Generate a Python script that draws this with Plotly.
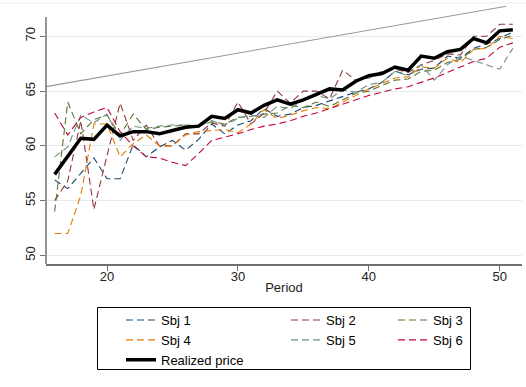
import plotly.graph_objects as go

# ---------------- data ----------------
periods = list(range(16, 52))

realized = [57.4, 59.0, 60.7, 60.6, 61.9, 60.9, 61.3, 61.3, 61.1, 61.4, 61.7, 61.8,
            62.7, 62.5, 63.3, 63.0, 63.7, 64.2, 63.8, 64.2, 64.7, 65.2, 65.1, 65.9,
            66.4, 66.6, 67.2, 66.9, 68.2, 68.0, 68.6, 68.8, 69.8, 69.4, 70.5, 70.6]

sbj1 = [56.9, 56.1, 57.5, 58.9, 57.0, 57.0, 60.1, 59.0, 59.9, 60.5, 59.6, 60.6,
        62.0, 61.1, 61.9, 62.3, 63.4, 62.7, 62.9, 63.5, 63.7, 64.1, 64.5, 64.9,
        65.2, 65.8, 66.8, 66.5, 67.0, 67.1, 68.2, 68.0, 68.9, 69.3, 69.8, 70.4]

sbj2 = [55.0, 56.8, 62.3, 54.2, 59.1, 63.9, 60.5, 61.9, 60.0, 60.0, 61.1, 61.1,
        62.1, 61.8, 64.0, 62.0, 63.0, 65.0, 63.9, 65.0, 65.0, 64.3, 66.9, 66.0,
        66.2, 66.8, 67.0, 66.7, 67.4, 67.8, 68.4, 68.3, 70.0, 70.0, 71.1, 71.1]

sbj3 = [54.0, 64.0, 61.1, 62.4, 62.8, 61.0, 62.9, 61.5, 61.7, 61.8, 61.9, 61.8,
        62.2, 62.0, 62.6, 62.7, 62.9, 63.0, 63.7, 63.5, 64.0, 63.6, 64.2, 64.8,
        65.0, 65.5, 66.0, 66.1, 66.8, 66.9, 67.6, 67.9, 68.8, 69.0, 69.7, 70.1]

sbj4 = [52.0, 52.0, 55.5, 62.0, 62.0, 59.0, 60.2, 61.0, 60.0, 60.0, 61.0, 61.3,
        61.4, 61.5, 61.2, 62.0, 63.3, 62.5, 62.8, 63.2, 63.5, 63.4, 64.0, 64.6,
        65.2, 65.7, 66.2, 66.3, 67.2, 67.1, 68.0, 67.6, 68.8, 68.9, 70.0, 69.8]

sbj5 = [59.0, 59.9, 62.8, 62.1, 62.9, 60.5, 61.8, 61.6, 61.8, 61.9, 61.9, 61.8,
        62.3, 61.9, 62.5, 62.8, 62.6, 63.6, 63.4, 64.2, 64.6, 64.3, 65.1, 64.9,
        65.6, 65.8, 66.8, 66.4, 67.4, 66.0, 67.4, 68.2, 67.8, 67.4, 67.0, 68.9]

sbj6 = [63.0, 61.0, 62.6, 63.1, 63.5, 61.3, 60.0, 59.0, 58.9, 58.5, 58.2, 59.3,
        60.5, 60.8, 61.1, 61.5, 61.8, 62.0, 62.3, 62.7, 63.0, 63.4, 63.8, 64.2,
        64.6, 64.9, 65.2, 65.4, 65.8, 66.2, 66.7, 67.2, 67.7, 68.0, 69.0, 69.4]

fund_period = [15.34, 50.5]
fund_value = [65.41, 72.74]

series_names = ["Sbj 1", "Sbj 2", "Sbj 3", "Sbj 4", "Sbj 5", "Sbj 6"]
series_vals = [sbj1, sbj2, sbj3, sbj4, sbj5, sbj6]
series_colors = ["#1a476f", "#90353b", "#55752f", "#e37e00", "#6e8e84", "#c10534"]
series_legend = ["legend", "legend2", "legend3", "legend", "legend2", "legend3"]

y_ticks = [50, 55, 60, 65, 70]
x_ticks = [20, 30, 40, 50]

# ---------------- layout geometry ----------------
W, H = 526, 387
ML, MR, MT, MB = 46, 4, 3, 123
PW = W - ML - MR
PH = H - MT - MB
X_RANGE = [15.34, 51.70]
Y_RANGE = [49.22, 73.04]
Y_AXIS_TOP = 71.76

def px_to_paper_x(px):
    return (px - ML) / PW

def px_to_paper_y(py):
    return (H - MB - py) / PH

FONT = "Liberation Sans, Arial, sans-serif"
AXIS_COL = "#707070"

fig = go.Figure()

fig.add_trace(go.Scatter(x=fund_period, y=fund_value, mode="lines",
                         line=dict(color="#9a9a9a", width=1.1),
                         showlegend=False, hoverinfo="skip"))

for name, vals, col, lg in zip(series_names, series_vals, series_colors, series_legend):
    fig.add_trace(go.Scatter(x=periods, y=vals, mode="lines", name=name,
                             line=dict(color=col, width=1.1, dash="7px,4px"),
                             legend=lg))

fig.add_trace(go.Scatter(x=periods, y=realized, mode="lines", name="Realized price",
                         line=dict(color="black", width=3.5), legend="legend"))

leg_common = dict(bgcolor="rgba(0,0,0,0)", borderwidth=0,
                  font=dict(family=FONT, size=13, color="black"),
                  xanchor="left", yanchor="top", orientation="v",
                  tracegroupgap=0)
ly = px_to_paper_y(305)

fig.update_layout(
    width=W, height=H,
    margin=dict(l=ML, r=MR, t=MT, b=MB),
    paper_bgcolor="white", plot_bgcolor="white",
    font=dict(family=FONT, size=13, color="black"),
    legend=dict(x=px_to_paper_x(121), y=ly, **leg_common),
    legend2=dict(x=px_to_paper_x(286), y=ly, **leg_common),
    legend3=dict(x=px_to_paper_x(393), y=ly, **leg_common),
    xaxis=dict(range=X_RANGE, tickvals=x_ticks, showgrid=False, zeroline=False,
               showline=True, linecolor=AXIS_COL, linewidth=1.5,
               ticks="outside", ticklen=5, tickcolor=AXIS_COL, tickwidth=1,
               ticklabelstandoff=-5,
               tickfont=dict(family=FONT, size=13, color="#222"),
               title=dict(text="Period", font=dict(family=FONT, size=13, color="#222"),
                          standoff=0),
               automargin=False),
    yaxis=dict(range=Y_RANGE, tickvals=y_ticks, showgrid=True, gridcolor="#e3ebef",
               gridwidth=1, zeroline=False, showline=False,
               ticks="outside", ticklen=5, tickcolor=AXIS_COL, tickwidth=1,
               tickangle=-90,
               tickfont=dict(family=FONT, size=13, color="#222"),
               automargin=False),
    showlegend=True,
)

# y axis line (ends at the top of the axis scale, as in the original)
fig.add_shape(type="line", xref="x domain", x0=0, x1=0, yref="y",
              y0=Y_RANGE[0], y1=Y_AXIS_TOP, line=dict(color=AXIS_COL, width=1.5))
# faint top border of the plot region
fig.add_shape(type="line", xref="paper", x0=-ML / PW, x1=1 + MR / PW, yref="paper",
              y0=1, y1=1, line=dict(color="#e6edf1", width=1))
# legend frame
fig.add_shape(type="rect", xref="paper", yref="paper",
              x0=px_to_paper_x(97.5), x1=px_to_paper_x(470.5),
              y0=px_to_paper_y(369.5), y1=px_to_paper_y(307.5),
              line=dict(color="black", width=1), fillcolor="rgba(0,0,0,0)")

fig.write_html("out.html")
